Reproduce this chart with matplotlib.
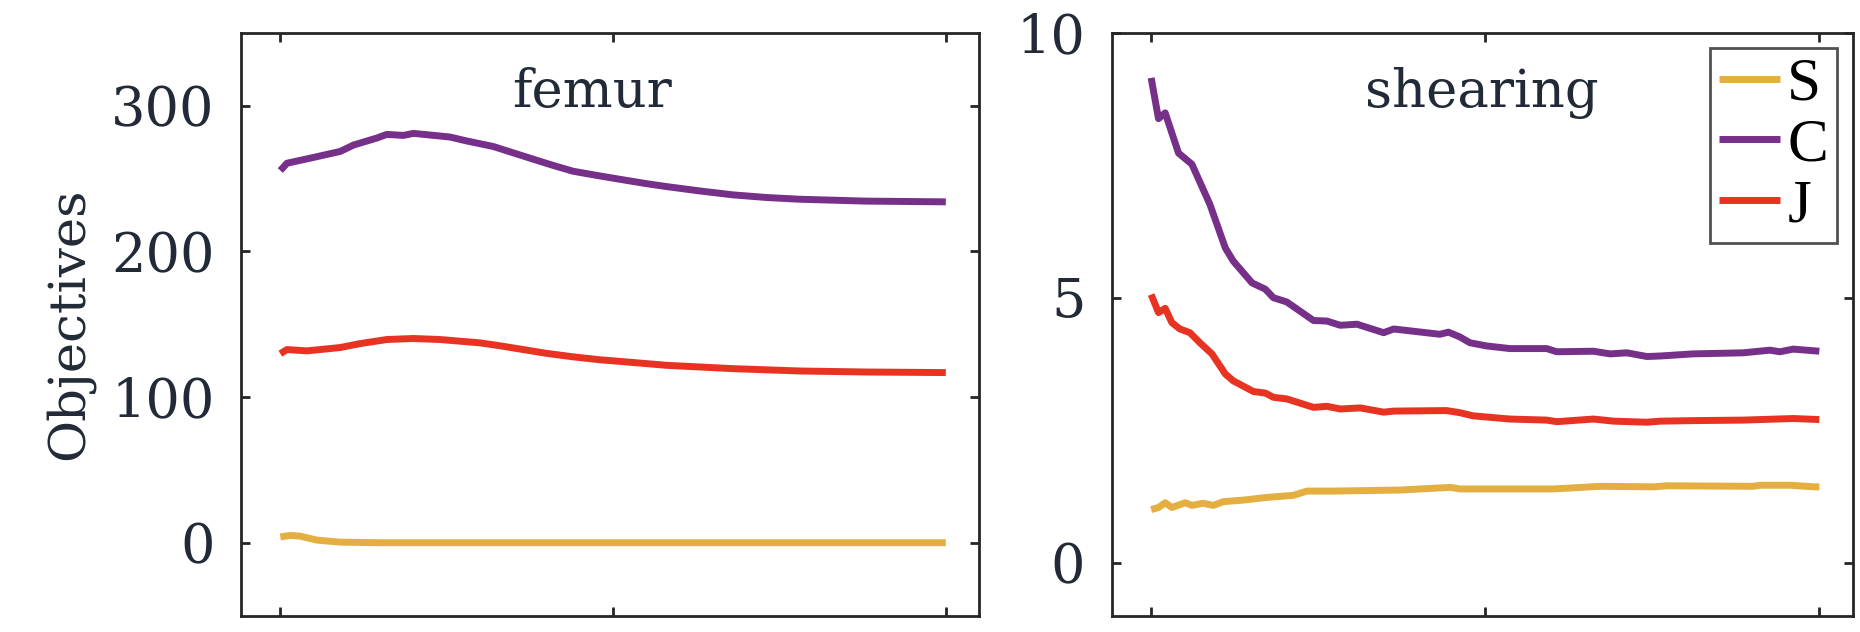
import matplotlib
matplotlib.use("Agg")
import matplotlib.pyplot as plt

# === data (progress in %, objective values) ===
femur_s_x = [0, 1.5, 3, 5.5, 9, 15, 30, 50, 75, 100]
femur_s_y = [4.0, 5.0, 4.5, 1.8, 0.4, 0.0, 0.0, 0.0, 0.0, 0.0]

femur_c_x = [0, 1, 4.5, 9, 11, 14.5, 16, 18.5, 20, 25.5, 28, 32, 37.5, 41, 44, 48, 51, 55, 58,
             63, 68, 73, 78, 88, 100]
femur_c_y = [255.5, 260.5, 264, 268.6, 273, 277.8, 280.3, 279.6, 281, 278.5, 275.8, 272, 264,
             259, 255, 251.8, 249.5, 246.5, 244.5, 241.5, 238.8, 237, 235.8, 234.5, 234]

femur_j_x = [0, 1, 4, 9, 12, 16, 20, 24, 30, 33, 36.5, 40, 44, 48, 51, 58, 68, 78, 88, 100]
femur_j_y = [129.8, 132.6, 131.7, 134, 136.7, 139.5, 140.2, 139.5, 137.2, 135.2, 132.6, 130,
             127.6, 125.6, 124.5, 121.8, 119.5, 117.9, 117.2, 116.8]

shear_s_x = [0, 1.1, 2.1, 3.1, 5.1, 6.1, 7.8, 9.3, 10.8, 13.8, 17.3, 19.3, 21.3, 23.3, 27.3,
             37.3, 44.8, 46.2, 51.2, 60.2, 67.2, 75.2, 77.2, 90, 91.2, 95.7, 99.2, 100]
shear_s_y = [1.0, 1.04, 1.13, 1.04, 1.13, 1.08, 1.12, 1.08, 1.15, 1.18, 1.23, 1.25, 1.27, 1.35,
             1.35, 1.37, 1.42, 1.39, 1.39, 1.39, 1.44, 1.43, 1.45, 1.44, 1.46, 1.46, 1.43, 1.43]

shear_c_x = [0, 1.1, 2.1, 4.1, 6.1, 8.8, 11.1, 12.3, 15.1, 17.1, 18.3, 20.3, 24.3, 26.3, 28.3,
             30.8, 34.8, 36.3, 43.2, 44.5, 46.2, 47.7, 50.2, 53.7, 59.2, 60.7, 66.2, 68.7, 71.2,
             74.2, 76.2, 81.1, 88.6, 92.6, 94.1, 96.1, 100]
shear_c_y = [9.15, 8.38, 8.49, 7.73, 7.52, 6.76, 5.94, 5.69, 5.28, 5.16, 5.0, 4.92, 4.57, 4.56,
             4.48, 4.5, 4.34, 4.41, 4.31, 4.35, 4.26, 4.15, 4.09, 4.04, 4.04, 3.98, 3.99, 3.94,
             3.96, 3.89, 3.90, 3.94, 3.96, 4.01, 3.98, 4.03, 3.99]

shear_j_x = [0, 1.1, 2.1, 3.1, 4.3, 5.8, 7.3, 9.1, 11.1, 12.3, 15.3, 17.1, 18.3, 20.3, 22.3,
             24.3, 26.3, 28.3, 31.3, 34.8, 36.3, 44.2, 46.2, 48.2, 53.7, 59.2, 60.7, 66.2, 69.2,
             74.2, 76.2, 81.1, 88.6, 96.1, 100]
shear_j_y = [5.06, 4.72, 4.80, 4.53, 4.41, 4.34, 4.15, 3.94, 3.56, 3.43, 3.23, 3.20, 3.12, 3.09,
             3.01, 2.93, 2.95, 2.90, 2.92, 2.84, 2.86, 2.87, 2.83, 2.77, 2.71, 2.69, 2.66, 2.71,
             2.67, 2.65, 2.67, 2.68, 2.69, 2.72, 2.70]

labels = ["S", "C", "J"]
colors = ["#E4AF40", "#76308A", "#E83323"]
text_color = "#222a38"

plt.rcParams["font.family"] = ["DejaVu Serif"]

fig = plt.figure(figsize=(18.6, 6.32), dpi=100)
ax1 = fig.add_axes([0.1296, 0.026, 0.3968, 0.922])
ax2 = fig.add_axes([0.5977, 0.026, 0.3984, 0.922])

panels = [
	(ax1, "femur", 0.476, [(femur_s_x, femur_s_y), (femur_c_x, femur_c_y), (femur_j_x, femur_j_y)],
		(-50, 350), [0, 100, 200, 300]),
	(ax2, "shearing", 0.5, [(shear_s_x, shear_s_y), (shear_c_x, shear_c_y), (shear_j_x, shear_j_y)],
		(-1, 10), [0, 5, 10]),
]

for ax, name, tx, series, ylim, yticks in panels:
	for (xs, ys), lab, col in zip(series, labels, colors):
		ax.plot(xs, ys, color=col, lw=5, label=lab, solid_capstyle="butt", solid_joinstyle="round")
	ax.set_xlim(-5.9, 105)
	ax.set_ylim(*ylim)
	ax.set_xticks([0, 50, 100])
	ax.set_xticklabels([])
	ax.set_yticks(yticks)
	ax.tick_params(direction="in", length=6.5, width=2, top=True, right=True,
		labelsize=39, pad=19, colors="#262626", labelcolor=text_color)
	for sp in ax.spines.values():
		sp.set_linewidth(2)
		sp.set_color("#262626")
	ax.text(tx, 0.873, name, transform=ax.transAxes, ha="center", va="baseline",
		fontsize=38, color=text_color)

ax1.set_ylabel("Objectives", fontsize=37, color=text_color, labelpad=12)

leg = ax2.legend(loc="upper right", bbox_to_anchor=(0.979, 0.974),
	prop={"family": "Liberation Serif", "size": 44},
	handlelength=1.0, handletextpad=0.12, labelspacing=0.08, borderpad=0.15,
	fancybox=False, frameon=True, borderaxespad=0)
leg.get_frame().set_edgecolor("#262626")
leg.get_frame().set_linewidth(2)

fig.savefig("out.png", dpi=100)
